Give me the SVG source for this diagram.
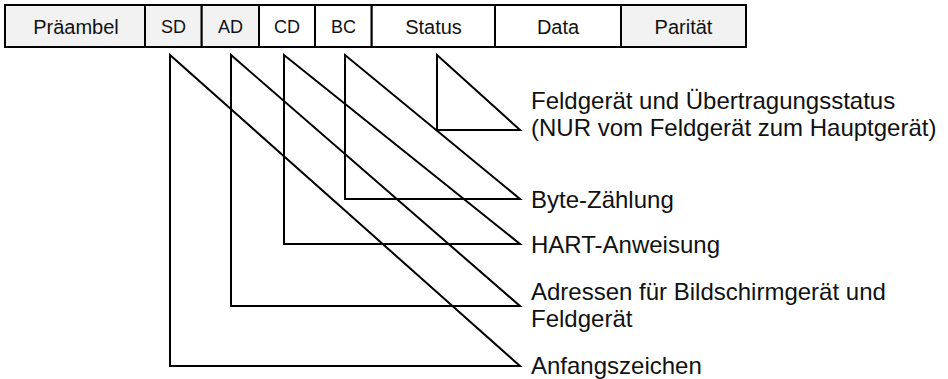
<svg xmlns="http://www.w3.org/2000/svg" width="948" height="379" viewBox="0 0 948 379">
<style>
.cell{stroke:#000;stroke-width:2}
.g{fill:#f2f2f2}
.w{fill:#fff}
.ht{font-family:"Liberation Sans",Arial,sans-serif;font-size:20px;fill:#111;text-anchor:middle}
.hs{font-size:18px}
.lb{font-family:"Liberation Sans",Arial,sans-serif;font-size:24px;fill:#111}
.tri{fill:none;stroke:#000;stroke-width:2;stroke-linejoin:miter}
</style>
<rect width="948" height="379" fill="#fff"/>
<g id="header">
<g id="praeambel"><rect class="cell g" x="5" y="5" width="140" height="42"/><text class="ht" x="76" y="34">Präambel</text></g>
<g id="sd"><rect class="cell g" x="145" y="5" width="56.7" height="42"/><text class="ht hs" x="173.5" y="33">SD</text></g>
<g id="ad"><rect class="cell g" x="201.7" y="5" width="57.3" height="42"/><text class="ht hs" x="230.5" y="33">AD</text></g>
<g id="cd"><rect class="cell w" x="259" y="5" width="56" height="42"/><text class="ht hs" x="287" y="33">CD</text></g>
<g id="bc"><rect class="cell w" x="315" y="5" width="56.7" height="42"/><text class="ht hs" x="343.5" y="33">BC</text></g>
<g id="status"><rect class="cell w" x="371.7" y="5" width="123.3" height="42"/><text class="ht" x="433.5" y="34">Status</text></g>
<g id="data"><rect class="cell w" x="495" y="5" width="126" height="42"/><text class="ht" x="558" y="34">Data</text></g>
<g id="paritaet"><rect class="cell g" x="621" y="5" width="125" height="42"/><text class="ht" x="683.5" y="34">Parität</text></g>
</g>
<g id="connectors">
<polygon class="tri" points="170,55 170,366 520,366"/>
<polygon class="tri" points="231,55 231,306 520,306"/>
<polygon class="tri" points="284,55 284,244 520,244"/>
<polygon class="tri" points="345,55 345,199 520,199"/>
<polygon class="tri" points="437,55 437,130 520,130"/>
</g>
<g id="label-status"><text class="lb" x="531" y="109">Feldgerät und Übertragungsstatus</text><text class="lb" x="531" y="136">(NUR vom Feldgerät zum Hauptgerät)</text></g>
<g id="label-bc"><text class="lb" x="531" y="208">Byte-Zählung</text></g>
<g id="label-cd"><text class="lb" x="531" y="253">HART-Anweisung</text></g>
<g id="label-ad"><text class="lb" x="531" y="300">Adressen für Bildschirmgerät und</text><text class="lb" x="531" y="327">Feldgerät</text></g>
<g id="label-sd"><text class="lb" x="531" y="374">Anfangszeichen</text></g>
</svg>
